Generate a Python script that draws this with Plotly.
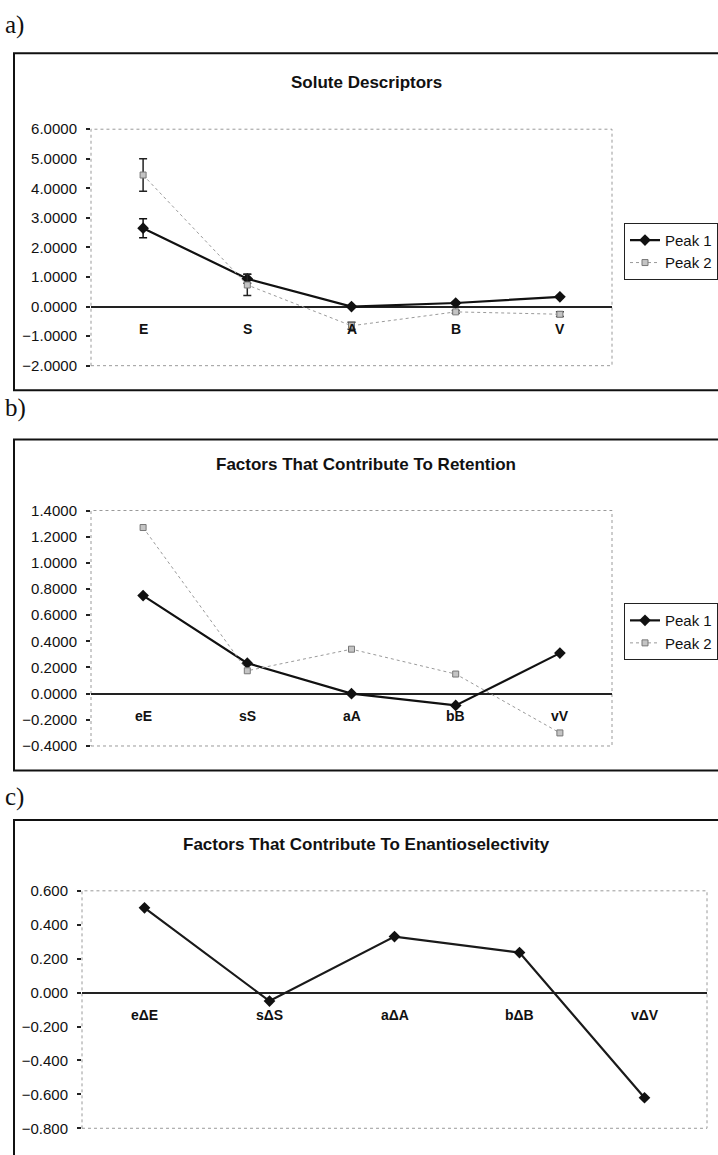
import plotly.graph_objects as go

W, H = 718, 1155

# ---- data ----
desc_labels = ["E", "S", "A", "B", "V"]
desc_peak1 = [2.65, 0.94, 0.0, 0.12, 0.33]
desc_peak1_err = [0.32, 0.15, 0.03, 0.03, 0.03]
desc_peak2 = [4.45, 0.73, -0.65, -0.18, -0.26]
desc_peak2_err = [0.55, 0.36, 0.12, 0.05, 0.08]

ret_labels = ["eE", "sS", "aA", "bB", "vV"]
ret_peak1 = [0.75, 0.233, 0.0, -0.09, 0.31]
ret_peak2 = [1.27, 0.175, 0.34, 0.15, -0.30]

enan_labels = ["e\u0394E", "s\u0394S", "a\u0394A", "b\u0394B", "v\u0394V"]
enan_values = [0.50, -0.05, 0.33, 0.236, -0.62]

FONT = "Liberation Sans, Arial, sans-serif"
SERIF = "Liberation Serif, Times New Roman, serif"


def px_x(p):
    return p / W


def px_y(p):
    return 1 - p / H


fig = go.Figure()

# panel geometry in pixels: (left, right), (top, bottom)
panels = [
    dict(name="", x=(91, 612), y=(122, 362), rng=(-2, 6), dtick=1.0, fmt=".4f"),
    dict(name="2", x=(91, 612), y=(509, 748), rng=(-0.4, 1.4), dtick=0.2, fmt=".4f"),
    dict(name="3", x=(82, 707), y=(895, 1136), rng=(-0.8, 0.6), dtick=0.2, fmt=".3f"),
]

xs = list(range(5))

# a) solute descriptors
fig.add_trace(go.Scatter(
    x=xs, y=desc_peak1, name="Peak 1", mode="lines+markers",
    line=dict(color="#111", width=2.2),
    marker=dict(symbol="diamond", size=9, color="#111"),
    error_y=dict(type="data", array=desc_peak1_err, color="#111", thickness=1.5, width=4),
    xaxis="x", yaxis="y", legend="legend"))
fig.add_trace(go.Scatter(
    x=xs, y=desc_peak2, name="Peak 2", mode="lines+markers",
    line=dict(color="#9a9a9a", width=1, dash="dot"),
    marker=dict(symbol="square", size=6, color="#c4c4c4", line=dict(color="#777", width=1)),
    error_y=dict(type="data", array=desc_peak2_err, color="#222", thickness=1.5, width=4),
    xaxis="x", yaxis="y", legend="legend"))

# b) retention factors
fig.add_trace(go.Scatter(
    x=xs, y=ret_peak1, name="Peak 1", mode="lines+markers",
    line=dict(color="#111", width=2.2),
    marker=dict(symbol="diamond", size=9, color="#111"),
    xaxis="x2", yaxis="y2", legend="legend2"))
fig.add_trace(go.Scatter(
    x=xs, y=ret_peak2, name="Peak 2", mode="lines+markers",
    line=dict(color="#9a9a9a", width=1, dash="dot"),
    marker=dict(symbol="square", size=6, color="#c4c4c4", line=dict(color="#777", width=1)),
    xaxis="x2", yaxis="y2", legend="legend2"))

# c) enantioselectivity
fig.add_trace(go.Scatter(
    x=xs, y=enan_values, name="Enantioselectivity", mode="lines+markers",
    line=dict(color="#1a1a1a", width=2.2),
    marker=dict(symbol="diamond", size=9, color="#111"),
    xaxis="x3", yaxis="y3", showlegend=False))

layout = dict(
    width=W, height=H, margin=dict(l=0, r=0, t=0, b=0),
    paper_bgcolor="white", plot_bgcolor="white",
    font=dict(family=FONT, size=15, color="#111"),
)

shapes = []
annotations = []
cat_sets = [desc_labels, ret_labels, enan_labels]

for p, cats in zip(panels, cat_sets):
    n = p["name"]
    layout["xaxis" + n] = dict(
        domain=[px_x(p["x"][0]), px_x(p["x"][1])],
        range=[-0.5, 4.5], showgrid=False, zeroline=False,
        showticklabels=False, ticks="", showline=False,
        anchor="y" + n,
    )
    layout["yaxis" + n] = dict(
        domain=[px_y(p["y"][1]), px_y(p["y"][0])],
        range=list(p["rng"]), dtick=p["dtick"], tickformat=p["fmt"],
        showgrid=False, zeroline=True, zerolinecolor="#222", zerolinewidth=1.5,
        showline=False, ticks="outside", ticklen=4, tickwidth=1.5, tickcolor="#222",
        ticklabelstandoff=6, tickfont=dict(size=15, color="#111"),
        anchor="x" + n,
    )
    # dotted plot-area frame
    shapes.append(dict(
        type="rect", xref=f"x{n} domain", yref=f"y{n} domain",
        x0=0, x1=1, y0=0, y1=1,
        line=dict(color="#9a9a9a", width=1, dash="dot"), layer="below"))
    # category labels sitting just under the zero line
    for i, c in enumerate(cats):
        annotations.append(dict(
            x=i, y=0, xref="x" + n, yref="y" + n, text=f"<b>{c}</b>",
            showarrow=False, yshift=-22, yanchor="middle",
            font=dict(size=14, color="#111")))

# outer chart frames
frames = [(45, 387), (437, 773), (823, 1170)]
for top, bot in frames:
    shapes.append(dict(
        type="rect", xref="paper", yref="paper",
        x0=px_x(14), x1=px_x(730), y0=px_y(bot), y1=px_y(top),
        line=dict(color="#111", width=2)))

# titles
titles = [("Solute Descriptors", 75), ("Factors That Contribute To Retention", 462),
          ("Factors That Contribute To Enantioselectivity", 848)]
for t, yy in titles:
    annotations.append(dict(
        x=px_x(366), y=px_y(yy), xref="paper", yref="paper",
        xanchor="center", yanchor="middle",
        text=f"<b>{t}</b>", showarrow=False, font=dict(size=17, color="#111")))

# panel letters
for t, yy in [("a)", 16), ("b)", 405), ("c)", 800)]:
    annotations.append(dict(
        x=px_x(3), y=px_y(yy), xref="paper", yref="paper",
        xanchor="left", yanchor="middle",
        text=t, showarrow=False, font=dict(family=SERIF, size=25, color="#111")))

legend_style = dict(
    xanchor="left", yanchor="top", bgcolor="white",
    bordercolor="#222", borderwidth=1, font=dict(size=15, color="#111"),
    tracegroupgap=0,
)
layout["legend"] = dict(x=px_x(624), y=px_y(217), **legend_style)
layout["legend2"] = dict(x=px_x(624), y=px_y(603), **legend_style)
layout["shapes"] = shapes
layout["annotations"] = annotations

fig.update_layout(**layout)
fig.write_html("out.html")
